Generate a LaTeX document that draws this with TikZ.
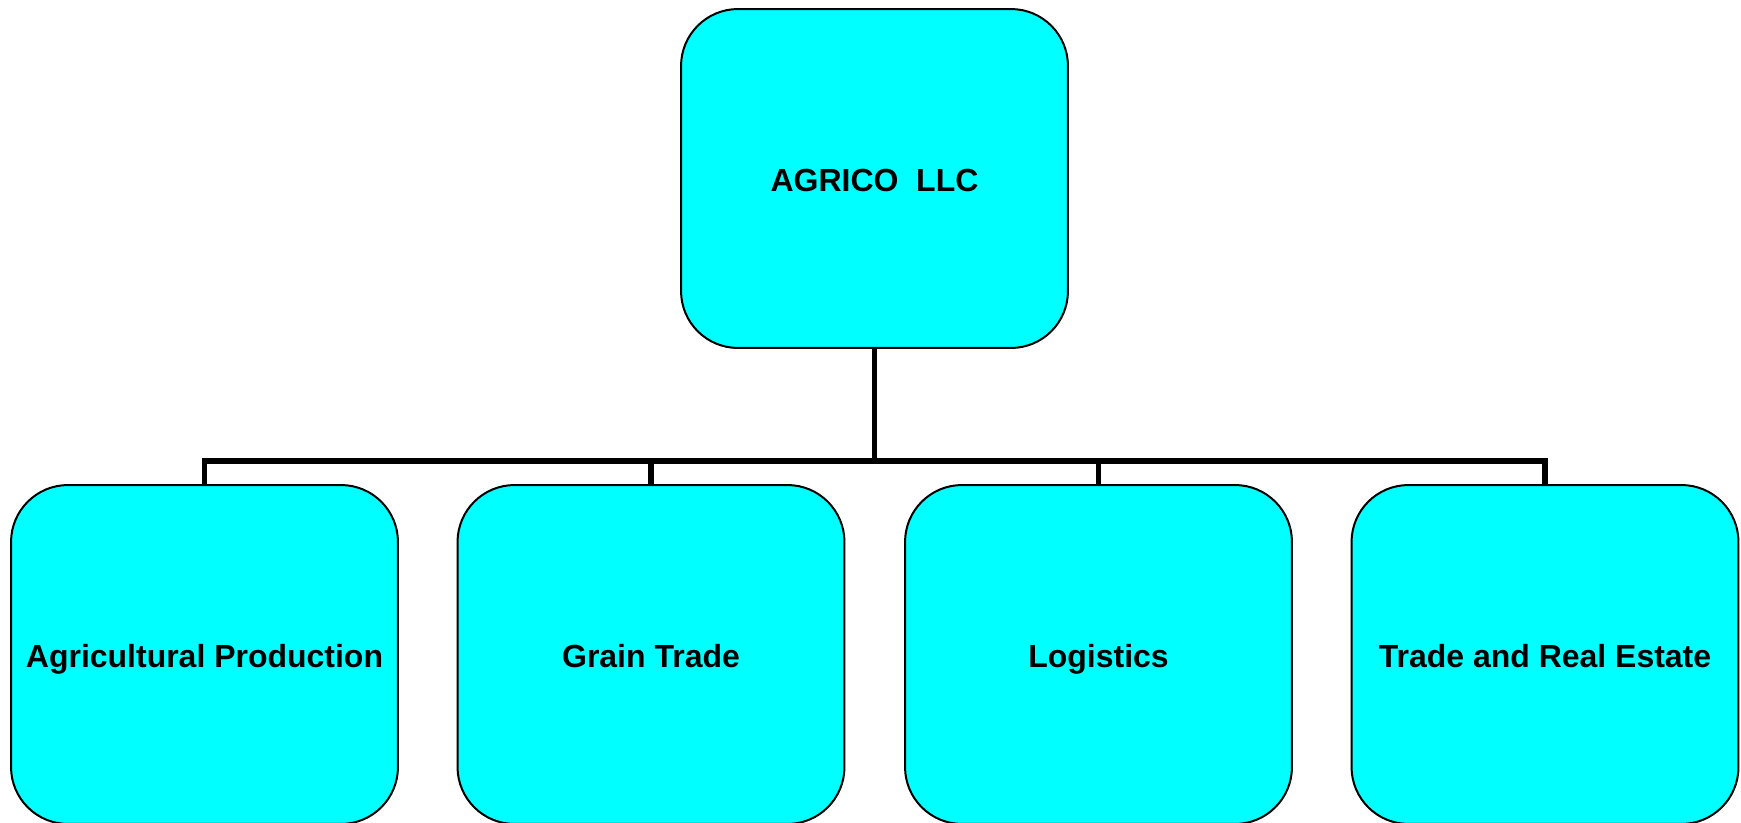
\documentclass[tikz,border=0pt]{standalone}
\usepackage{fontspec}
\setmainfont{Liberation Sans}
\usepackage{tikz}
\definecolor{boxcyan}{RGB}{0,255,255}
\tikzset{
  unit/.style={rounded corners=1.14cm, draw=black, line width=0.04cm, fill=boxcyan,
    minimum width=7.74cm, minimum height=6.78cm, inner sep=0pt,
    text height=0.52cm, text depth=0cm,
    font=\bfseries\fontsize{18.2}{22}\selectfont},
  link/.style={line width=0.11cm, black}
}
\begin{document}
\begin{tikzpicture}[x=0.02cm, y=-0.02cm]
\useasboundingbox (0,0) rectangle (1741,822);

\node[unit] (agrico) at (874.5,178.5) {AGRICO\ \ LLC};

\node[unit] (agri) at (204.5,654.5) {Agricultural Production};
\node[unit] (grain) at (651,654.5) {Grain Trade};
\node[unit] (logis) at (1098.5,654.5) {Logistics};
\node[unit] (estate) at (1545,654.5) {Trade and Real Estate};

\coordinate (bar) at (874.5,461);
\draw[link] (agrico.south) -- (bar);
\draw[link] (bar) -| (agri.north);
\draw[link] (bar) -| (grain.north);
\draw[link] (bar) -| (logis.north);
\draw[link] (bar) -| (estate.north);
\end{tikzpicture}
\end{document}
